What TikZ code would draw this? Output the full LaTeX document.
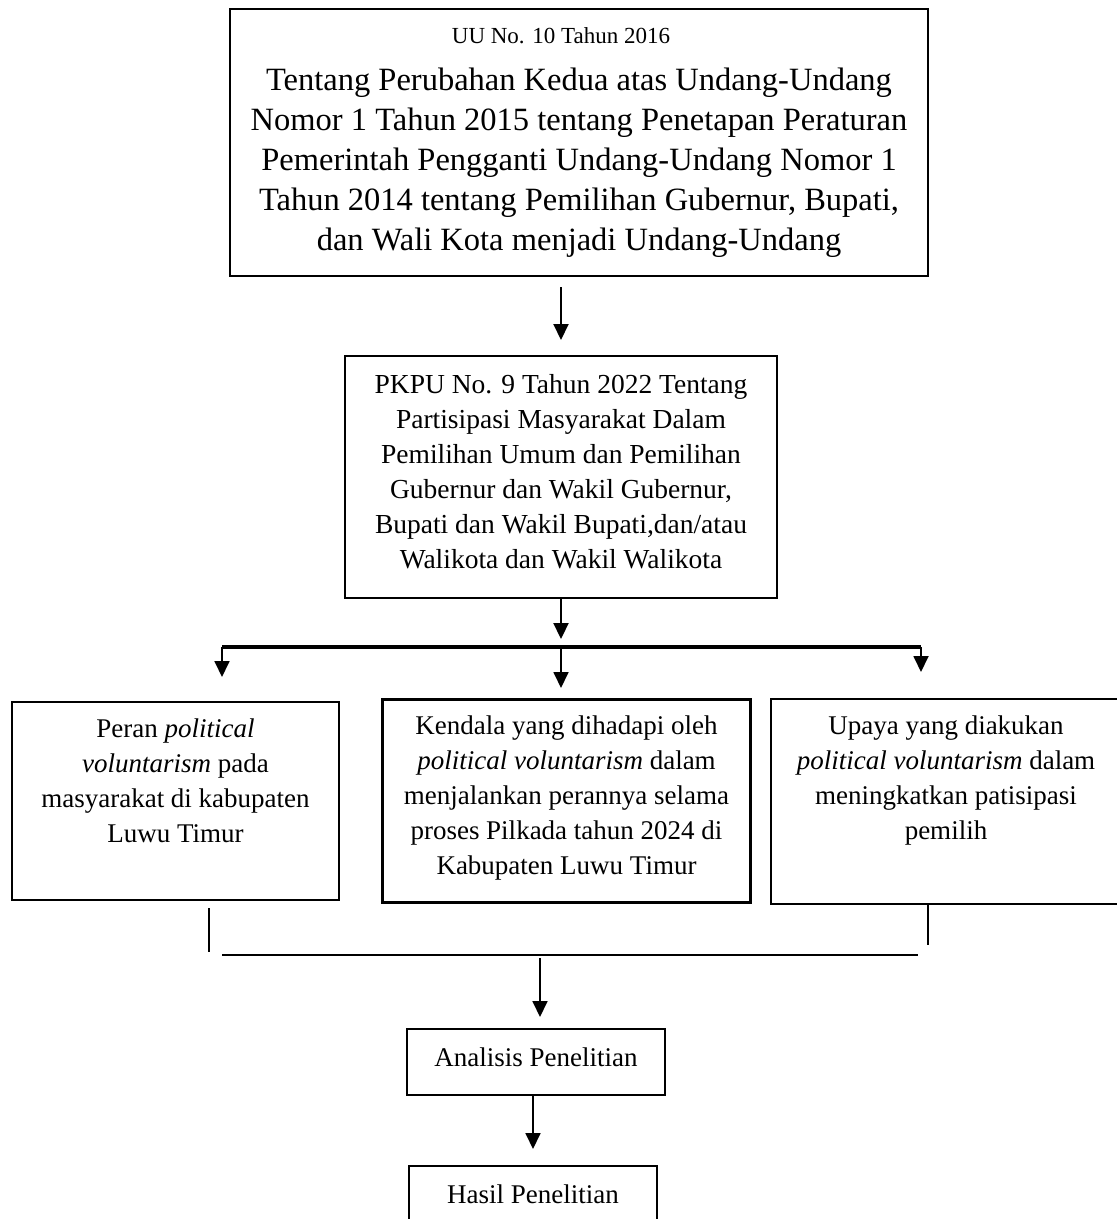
\documentclass[tikz,border=0pt]{standalone}
\usepackage{fontspec}
\setmainfont{Liberation Serif}
\usetikzlibrary{arrows.meta,calc}
\begin{document}
\begin{tikzpicture}[x=1pt,y=-1pt,
  box/.style={draw,line width=2pt,inner sep=0pt,anchor=north west},
  arr/.style={line width=1.8pt,-{Triangle[width=15pt,length=16pt]}},
  ln/.style={line width=1.8pt}]
\clip (0,0) rectangle (1117,1219);
% top box
\node[box] (uu) at (229,8) {\parbox[c][267pt][t]{698pt}{\centering\vspace*{15pt}%
{\fontsize{23}{28}\selectfont\strut UU No. 10 Tahun 2016\hspace*{36pt}\par}\vspace{7pt}%
\fontsize{32.5}{40}\selectfont Tentang Perubahan Kedua atas Undang-Undang\\
Nomor 1 Tahun 2015 tentang Penetapan Peraturan\\
Pemerintah Pengganti Undang-Undang Nomor 1\\
Tahun 2014 tentang Pemilihan Gubernur, Bupati,\\
dan Wali Kota menjadi Undang-Undang\par}};
% PKPU box
\node[box] (pk) at (344,355) {\parbox[c][242pt][t]{432pt}{\centering\vspace*{12.5pt}%
\fontsize{27.5}{35}\selectfont\strut PKPU No. 9 Tahun 2022 Tentang\\
Partisipasi Masyarakat Dalam\\
Pemilihan Umum dan Pemilihan\\
Gubernur dan Wakil Gubernur,\\
Bupati dan Wakil Bupati,dan/atau\\
Walikota dan Wakil Walikota\par}};
% three boxes
\node[box] (lb) at (11,701) {\parbox[c][198pt][t]{327pt}{\centering\vspace*{10.5pt}%
\fontsize{27}{35}\selectfont\strut Peran \textit{political}\\
\textit{voluntarism} pada\\
masyarakat di kabupaten\\
Luwu Timur\par}};
\node[box,line width=3pt] (mb) at (381,698) {\parbox[c][203pt][t]{368pt}{\centering\vspace*{10.5pt}%
\fontsize{27}{35}\selectfont\strut Kendala yang dihadapi oleh\\
\textit{political voluntarism} dalam\\
menjalankan perannya selama\\
proses Pilkada tahun 2024 di\\
Kabupaten Luwu Timur\par}};
\node[box] (rb) at (770,698) {\parbox[c][205pt][t]{350pt}{\centering\vspace*{10.5pt}%
\fontsize{27}{35}\selectfont\strut Upaya yang diakukan\\
\textit{political voluntarism} dalam\\
meningkatkan patisipasi\\
pemilih\par}};
% bottom boxes
\node[box] (an) at (406,1028) {\parbox[c][66pt][t]{258pt}{\centering\vspace*{12.5pt}%
\fontsize{27}{35}\selectfont\strut Analisis Penelitian\par}};
\node[box] (hs) at (408,1165) {\parbox[c][80pt][t]{248pt}{\centering\vspace*{12.5pt}%
\fontsize{27}{35}\selectfont\strut Hasil Penelitian\par}};
% connectors
\coordinate (bl) at (222,647);
\coordinate (br) at (921,647);
\draw[arr,line width=2pt,shorten <=10pt,shorten >=15pt] (uu.south -| pk.north) -- (pk.north);
\draw[arr,line width=2.2pt,shorten >=8pt] (pk.south) -- (pk.south |- bl);
\draw[line width=3.2pt] (bl) -- (br);
\draw[arr,shorten >=24pt] (bl) -- (bl |- lb.north);
\draw[arr,shorten >=10pt] (pk.south |- bl) -- (pk.south |- mb.north);
\draw[arr,shorten >=26pt] (br) -- (br |- rb.north);
\coordinate (lv1) at (209,908);
\coordinate (lv2) at (209,952);
\coordinate (rv1) at (928,903);
\coordinate (rv2) at (928,945);
\coordinate (cl) at (222,955);
\coordinate (cr) at (918,955);
\coordinate (cm) at (540,955);
\draw[ln] (lv1) -- (lv2);
\draw[ln] (rv1) -- (rv2);
\draw[line width=2.6pt] (cl) -- (cr);
\draw[arr,shorten <=3pt,shorten >=11pt] (cm) -- (cm |- an.north);
\draw[arr,shorten >=16pt] (an.south -| hs.north) -- (hs.north);
\end{tikzpicture}
\end{document}
